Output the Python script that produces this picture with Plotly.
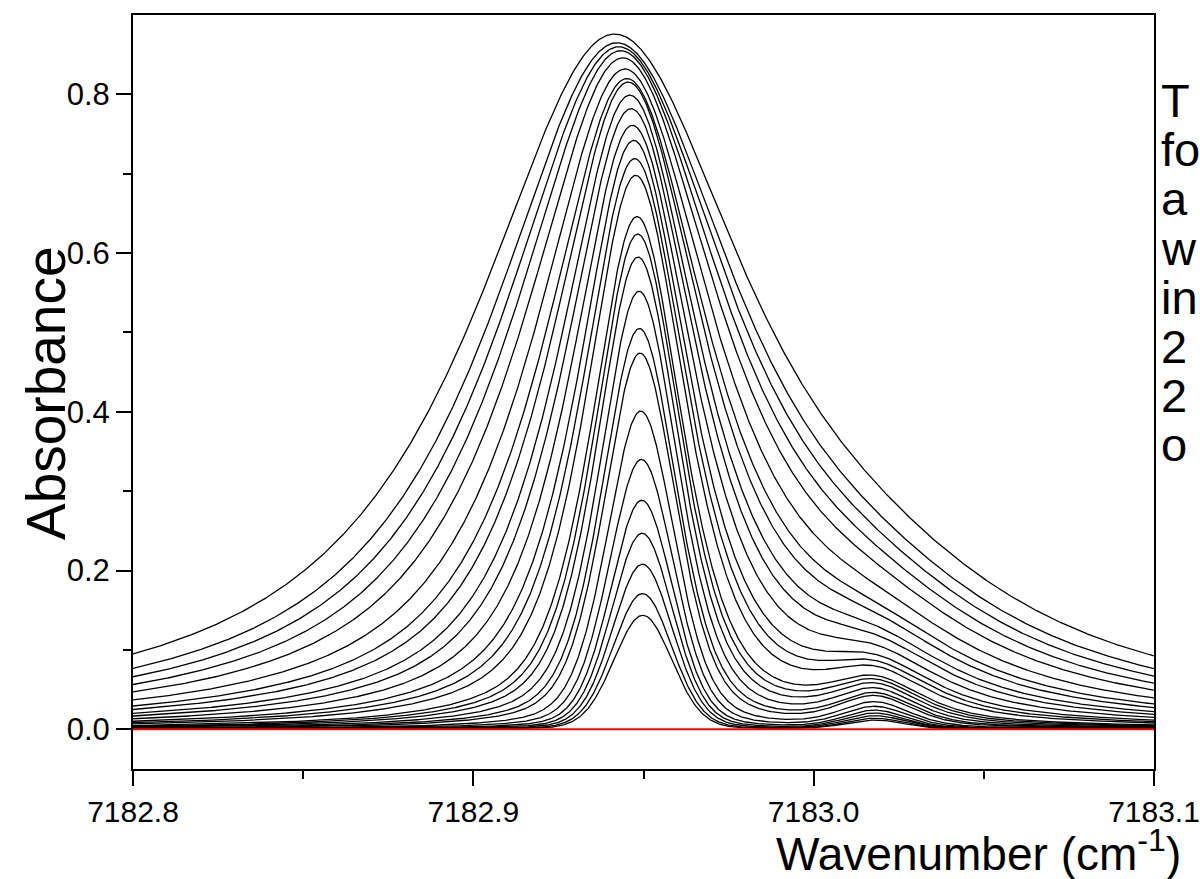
import numpy as np
import plotly.graph_objects as go

# ---- data (top curve first) ----
peak_heights = [0.876, 0.865, 0.860, 0.855, 0.846, 0.832, 0.820, 0.8155, 0.799,
                0.782, 0.761, 0.742, 0.719, 0.698, 0.646, 0.624, 0.595, 0.552,
                0.505, 0.474, 0.401, 0.340, 0.2885, 0.247, 0.208, 0.171, 0.1436]
lorentz_hwhm = [0.0480, 0.0430, 0.0398, 0.0366, 0.0334, 0.0295, 0.0262, 0.0240, 0.0214,
                0.0196, 0.0174, 0.0150, 0.0136, 0.0122, 0.0100, 0.0091, 0.0082, 0.0071,
                0.0061, 0.0054, 0.0042, 0.0034, 0.0027, 0.0022, 0.0018, 0.0014, 0.0011]
line_centers = [7182.9410, 7182.9418, 7182.9424, 7182.9430, 7182.9437, 7182.9444,
                7182.9450, 7182.9454, 7182.9459, 7182.9463, 7182.9467, 7182.9471,
                7182.9474, 7182.9477, 7182.9481, 7182.9483, 7182.9484, 7182.9487,
                7182.9488, 7182.9490, 7182.9492, 7182.9494, 7182.9495, 7182.9496,
                7182.9497, 7182.9497, 7182.9498]
doppler_hwhm = 0.0095
second_line_center = 7183.018
second_line_ratio = 0.08
second_line_width_factor = 1.1

x_ticks = [7182.8, 7182.9, 7183.0, 7183.1]
x_ticktext = ["7182.8", "7182.9", "7183.0", "7183.1"]
y_ticks = [0.0, 0.2, 0.4, 0.6, 0.8]
y_ticktext = ["0.0", "0.2", "0.4", "0.6", "0.8"]
side_text = ["T", "fo", "a", "w", "in", "2", "2", "o"]

wn = np.linspace(7182.8, 7183.1, 1201)


def pseudo_voigt(x, x0, gD, gL):
    fG, fL = 2 * gD, 2 * gL
    f = (fG**5 + 2.69269 * fG**4 * fL + 2.42843 * fG**3 * fL**2
         + 4.47163 * fG**2 * fL**3 + 0.07842 * fG * fL**4 + fL**5) ** 0.2
    r = fL / f
    eta = 1.36603 * r - 0.47719 * r**2 + 0.11116 * r**3
    hw = f / 2
    L = hw / np.pi / ((x - x0) ** 2 + hw**2)
    sigma = hw / np.sqrt(2 * np.log(2))
    G = np.exp(-(x - x0) ** 2 / (2 * sigma**2)) / (sigma * np.sqrt(2 * np.pi))
    return eta * L + (1 - eta) * G


fig = go.Figure()
main_region = wn < 7182.99
for h, gL, c in zip(peak_heights, lorentz_hwhm, line_centers):
    prof = pseudo_voigt(wn, c, doppler_hwhm, gL) + second_line_ratio * pseudo_voigt(
        wn, second_line_center, doppler_hwhm, gL * second_line_width_factor)
    prof = h * prof / prof[main_region].max()
    fig.add_trace(go.Scatter(x=wn, y=prof, mode="lines",
                             line=dict(color="black", width=1.3),
                             hoverinfo="skip"))

fig.add_trace(go.Scatter(x=[7182.8, 7183.1], y=[0, 0], mode="lines",
                         line=dict(color="#ff0000", width=2), hoverinfo="skip"))

L_PX, R_PX, T_PX, B_PX = 133, 46, 15, 110
W, H = 1200, 879
pw, ph = W - L_PX - R_PX, H - T_PX - B_PX

fig.update_layout(
    width=W, height=H,
    margin=dict(l=L_PX, r=R_PX, t=T_PX, b=B_PX, autoexpand=False),
    plot_bgcolor="white", paper_bgcolor="white", showlegend=False,
    font=dict(family="Liberation Sans, Arial, sans-serif", color="black"),
)
fig.update_xaxes(
    range=[7182.8, 7183.1], tickvals=x_ticks, ticktext=x_ticktext,
    ticks="outside", ticklen=15, tickwidth=2, tickcolor="black",
    showline=True, linewidth=2, linecolor="black", mirror=True,
    showgrid=False, zeroline=False, tickfont=dict(size=30),
    minor=dict(tickvals=[7182.85, 7182.95, 7183.05], ticks="outside",
               ticklen=8, tickwidth=2, tickcolor="black", showgrid=False),
)
fig.update_yaxes(
    range=[-0.05, 0.9], tickvals=y_ticks, ticktext=y_ticktext,
    ticks="outside", ticklen=15, tickwidth=2, tickcolor="black",
    showline=True, linewidth=2, linecolor="black", mirror=True,
    showgrid=False, zeroline=False, tickfont=dict(size=31),
    minor=dict(tickvals=[0.1, 0.3, 0.5, 0.7], ticks="outside",
               ticklen=8, tickwidth=2, tickcolor="black", showgrid=False),
)

fig.add_annotation(text="Absorbance", xref="paper", yref="paper",
                   x=(46 - L_PX) / pw, y=(H - B_PX - 393) / ph,
                   textangle=-90, showarrow=False, font=dict(size=55),
                   xanchor="center", yanchor="middle")
fig.add_annotation(text="Wavenumber (cm<sup>-1</sup>)", xref="paper", yref="paper",
                   x=(1183 - L_PX) / pw, y=(H - B_PX - 851) / ph,
                   showarrow=False, font=dict(size=46),
                   xanchor="right", yanchor="middle")
for i, t in enumerate(side_text):
    fig.add_annotation(text=t, xref="paper", yref="paper",
                       x=(1159 - L_PX) / pw, y=(H - B_PX - (101 + 49 * i)) / ph,
                       showarrow=False, font=dict(size=47), align="left",
                       xanchor="left", yanchor="middle")

fig.write_html("out.html")
